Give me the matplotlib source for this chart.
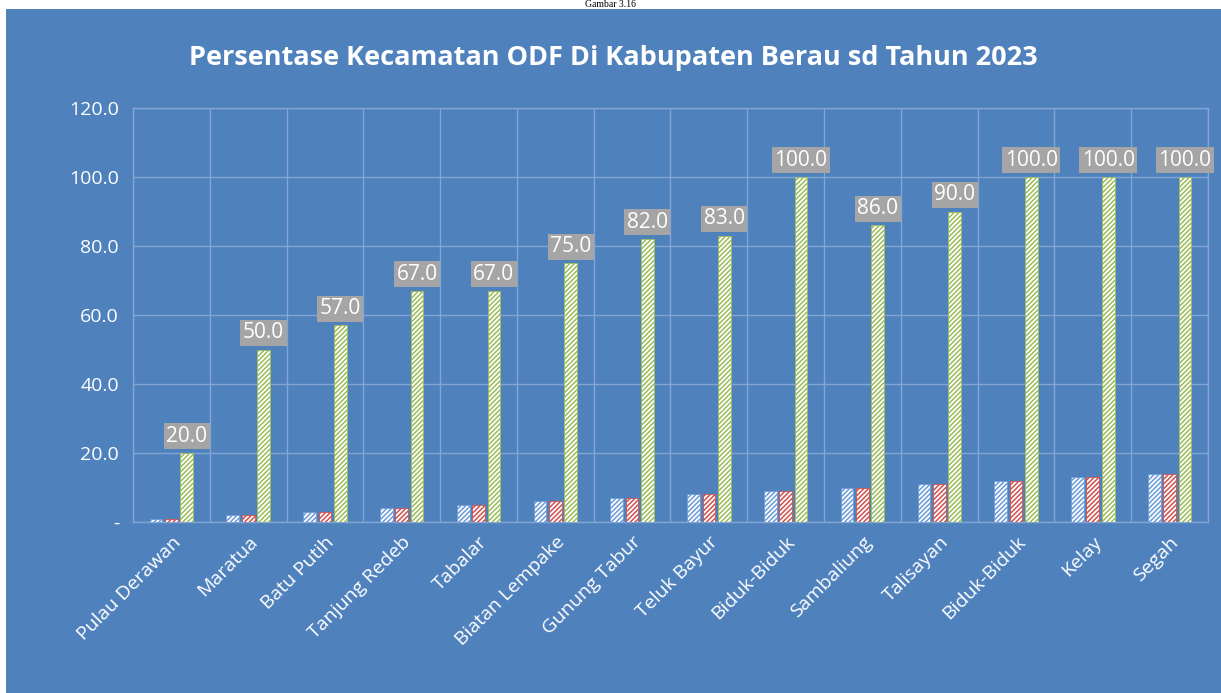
import matplotlib
matplotlib.use("Agg")
import matplotlib.pyplot as plt
from matplotlib.patches import Rectangle
from matplotlib.transforms import ScaledTranslation
import numpy as np

kecamatan = ["Pulau Derawan", "Maratua", "Batu Putih", "Tanjung Redeb", "Tabalar",
             "Biatan Lempake", "Gunung Tabur", "Teluk Bayur", "Biduk-Biduk",
             "Sambaliung", "Talisayan", "Biduk-Biduk", "Kelay", "Segah"]
seri_1 = [1, 2, 3, 4, 5, 6, 7, 8, 9, 10, 11, 12, 13, 14]
seri_2 = [1, 2, 3, 4, 5, 6, 7, 8, 9, 10, 11, 12, 13, 14]
persen_odf = [20.0, 50.0, 57.0, 67.0, 67.0, 75.0, 82.0, 83.0, 100.0, 86.0, 90.0, 100.0, 100.0, 100.0]
y_ticks = [0, 20, 40, 60, 80, 100, 120]

BG = "#4F81BD"
GRID = "#84A5D3"
plt.rcParams["font.family"] = ["Open Sans", "DejaVu Sans"]
plt.rcParams["hatch.linewidth"] = 1.1

fig = plt.figure(figsize=(12.21, 6.93), dpi=100, facecolor="white")
fig.patches.append(Rectangle((6 / 1221, 0), 1, (693 - 9) / 693, transform=fig.transFigure,
                             facecolor=BG, edgecolor="none", zorder=-10))
fig.text(0.5, 1.0, "Gambar 3.16", ha="center", va="top", fontsize=7,
         family="Liberation Serif", color="black")

ax = fig.add_axes([133 / 1221, (693 - 522) / 693, (1208 - 133) / 1221, (522 - 108) / 693])
ax.set_facecolor(BG)

x = np.arange(len(kecamatan))
w = 0.165
off = 0.2
series = [(seri_1, "#6A9BDA", -off), (seri_2, "#D0504D", 0), (persen_odf, "#9BBB59", off)]
for vals, col, dx in series:
    ax.bar(x + dx, vals, width=w, facecolor="white", edgecolor=col, hatch="///////",
           linewidth=0.6, zorder=3)

# data labels only for the percentage series
for xi, v in zip(x, persen_odf):
    ax.annotate(f"{v:.1f}", (xi + off, v), xytext=(0, 4.5), textcoords="offset points",
                ha="center", va="bottom", color="white", fontsize=15, zorder=5,
                bbox=dict(boxstyle="square,pad=0.12", facecolor="#A5A5A5", edgecolor="none"))

ax.set_xlim(-0.5, len(kecamatan) - 0.5)
ax.set_ylim(0, 120)
ax.set_yticks(y_ticks)
ax.set_yticklabels(["-"] + [f"{t:.1f}" for t in y_ticks[1:]])
ax.set_xticks(x)
ax.set_xticklabels(kecamatan, rotation=45, ha="right", va="top", rotation_mode="anchor")
for lbl in ax.get_xticklabels():
    lbl.set_transform(lbl.get_transform() + ScaledTranslation(0.12, 0, fig.dpi_scale_trans))
ax.set_xticks(np.arange(len(kecamatan) + 1) - 0.5, minor=True)
ax.tick_params(axis="both", which="both", length=0, colors="white", labelsize=14, pad=10)
ax.tick_params(axis="x", labelsize=14, pad=8)
ax.grid(axis="y", color=GRID, linewidth=1.0, zorder=1)
ax.grid(axis="x", which="minor", color=GRID, linewidth=1.0, zorder=1)
ax.set_axisbelow(True)
for s in ax.spines.values():
    s.set_color(GRID)
    s.set_linewidth(1.0)

fig.text(613 / 1221, 1 - 58 / 693, "Persentase Kecamatan ODF Di Kabupaten Berau sd Tahun 2023",
         ha="center", va="center", fontsize=19.5, fontweight="bold", color="white")

fig.savefig("out.png", dpi=100, facecolor=fig.get_facecolor())
